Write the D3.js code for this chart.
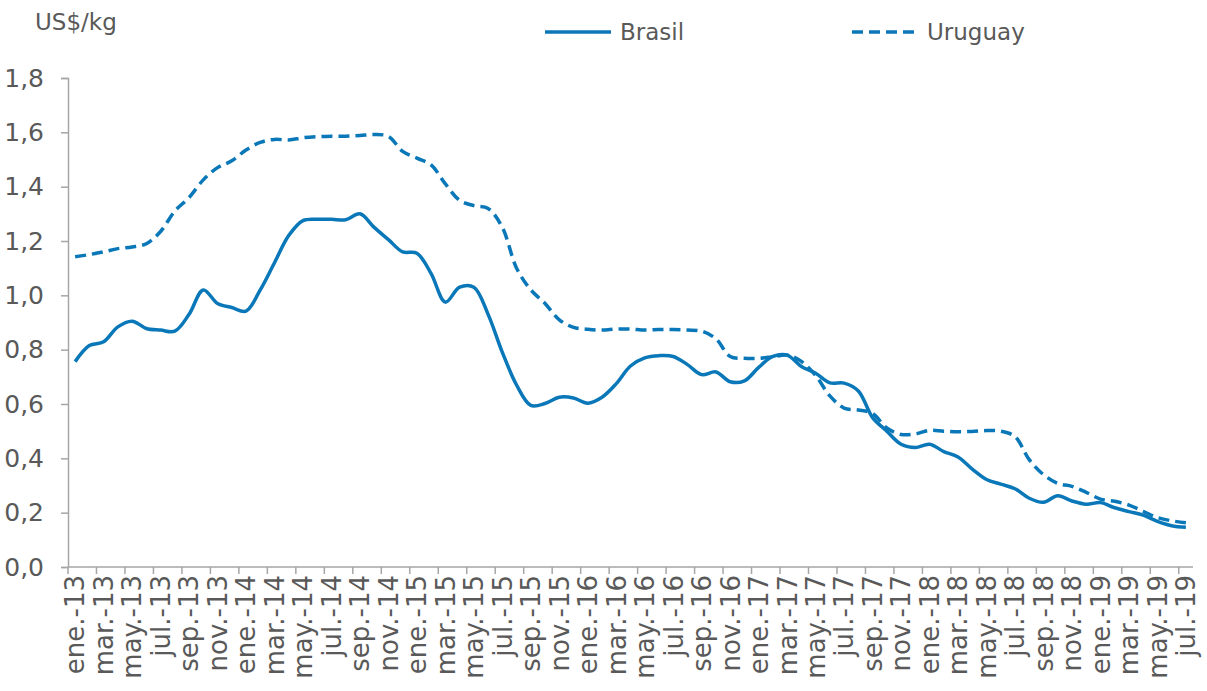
<!DOCTYPE html>
<html>
<head>
<meta charset="utf-8">
<script src="https://cdn.jsdelivr.net/npm/d3@7"></script>
<style>
  body { margin: 0; background: #fff; }
  text { font-family: "DejaVu Sans", sans-serif; fill: #595959; }
</style>
</head>
<body>
<svg id="chart" width="1207" height="691"></svg>
<script>
// Month names used on the axis
const monthNames = ["ene", "feb", "mar", "abr", "may", "jun", "jul", "ago", "sep", "oct", "nov", "dic"];

// Categories: ene.-13 ... jul.-19 (79 months)
const months = [];
for (let y = 13; y <= 19; y++) {
    for (let m = 0; m < 12; m++) {
        if (y === 19 && m > 6) break;
        months.push(`${monthNames[m]}.-${y}`);
    }
}

const brasil = [
    0.756, 0.815, 0.829, 0.884, 0.905, 0.878, 0.872, 0.868, 0.930, 1.020,
    0.970, 0.955, 0.942, 1.020, 1.120, 1.220, 1.275, 1.280, 1.280, 1.278,
    1.300, 1.250, 1.205, 1.160, 1.155, 1.080, 0.975, 1.030, 1.030, 0.930,
    0.790, 0.670, 0.595, 0.602, 0.625, 0.622, 0.603, 0.625, 0.675, 0.740,
    0.770, 0.778, 0.775, 0.745, 0.708, 0.718, 0.682, 0.685, 0.735, 0.775,
    0.780, 0.738, 0.713, 0.678, 0.677, 0.648, 0.550, 0.500, 0.452, 0.440,
    0.452, 0.425, 0.405, 0.360, 0.322, 0.305, 0.288, 0.253, 0.238, 0.262,
    0.243, 0.231, 0.237, 0.218, 0.204, 0.191, 0.168, 0.152, 0.146
];

const uruguay = [
    1.142, 1.150, 1.160, 1.172, 1.178, 1.190, 1.235, 1.310, 1.360, 1.425,
    1.470, 1.495, 1.535, 1.563, 1.574, 1.572, 1.580, 1.584, 1.586, 1.586,
    1.588, 1.592, 1.585, 1.530, 1.505, 1.480, 1.410, 1.350, 1.330, 1.320,
    1.250, 1.100, 1.020, 0.970, 0.910, 0.882, 0.875, 0.872, 0.876, 0.876,
    0.872, 0.874, 0.874, 0.872, 0.868, 0.840, 0.775, 0.768, 0.768, 0.774,
    0.780, 0.757, 0.705, 0.630, 0.585, 0.578, 0.565, 0.512, 0.488, 0.490,
    0.503, 0.500, 0.498, 0.499, 0.502, 0.500, 0.480, 0.395, 0.340, 0.308,
    0.297, 0.275, 0.250, 0.242, 0.228, 0.205, 0.182, 0.170, 0.163
];

const yTicks = [0, 0.2, 0.4, 0.6, 0.8, 1.0, 1.2, 1.4, 1.6, 1.8];

const series = [
    { name: "Brasil", values: brasil, dash: null },
    { name: "Uruguay", values: uruguay, dash: "11,6" }
];

const lineColor = "#0a78b8";
const axisColor = "#a6a6a6";

const svg = d3.select("#chart");
const margin = { left: 68, right: 14, top: 78, bottom: 124 };
const width = 1207, height = 691;

const x = d3.scaleBand()
    .domain(months)
    .range([margin.left, width - margin.right])
    .padding(0);

const y = d3.scaleLinear()
    .domain([0, 1.8])
    .range([height - margin.bottom, margin.top]);

const locale = d3.formatLocale({ decimal: ",", thousands: ".", grouping: [3], currency: ["", "$"] });
const fmt = locale.format(".1f");

// Y axis
const yAxis = svg.append("g")
    .attr("transform", `translate(${margin.left},0)`)
    .call(d3.axisLeft(y).tickValues(yTicks).tickFormat(fmt).tickSize(7).tickPadding(17));
yAxis.select(".domain").attr("stroke", axisColor).attr("stroke-width", 1.5);
yAxis.selectAll(".tick line").attr("stroke", axisColor).attr("stroke-width", 1.5);
yAxis.selectAll(".tick text")
    .style("font-size", "25px")
    .attr("fill", "#595959");

// X axis baseline
const x0 = y(0);
svg.append("line")
    .attr("x1", margin.left).attr("x2", width - margin.right)
    .attr("y1", x0).attr("y2", x0)
    .attr("stroke", axisColor).attr("stroke-width", 1.5);

// Tick marks every two months, at category boundaries
const tickCats = months.filter((d, i) => i % 2 === 0);
svg.append("g").selectAll("line")
    .data(tickCats)
    .join("line")
    .attr("x1", d => x(d)).attr("x2", d => x(d))
    .attr("y1", x0).attr("y2", x0 + 7)
    .attr("stroke", axisColor).attr("stroke-width", 1.5);

// Rotated month labels
svg.append("g").selectAll("text")
    .data(tickCats)
    .join("text")
    .attr("transform", d => `translate(${x(d) + x.bandwidth() / 2},${x0 + 8}) rotate(-90)`)
    .attr("text-anchor", "end")
    .attr("dy", "0.36em")
    .style("font-size", "26px")
    .text(d => d);

// Lines
const line = d3.line()
    .x((d, i) => x(months[i]) + x.bandwidth() / 2)
    .y(d => y(d))
    .curve(d3.curveCatmullRom.alpha(0.5));

series.forEach(s => {
    svg.append("path")
        .datum(s.values)
        .attr("fill", "none")
        .attr("stroke", lineColor)
        .attr("stroke-width", 3.5)
        .attr("stroke-dasharray", s.dash)
        .attr("d", line);
});

// Unit label
svg.append("text")
    .attr("x", 35).attr("y", 30)
    .style("font-size", "23px")
    .text("US$/kg");

// Legend
const legendPos = [{ x: 545, tx: 620 }, { x: 852, tx: 927 }];
series.forEach((s, i) => {
    const g = svg.append("g");
    g.append("line")
        .attr("x1", legendPos[i].x).attr("x2", legendPos[i].x + 66)
        .attr("y1", 32).attr("y2", 32)
        .attr("stroke", lineColor)
        .attr("stroke-width", 3.5)
        .attr("stroke-dasharray", s.dash);
    g.append("text")
        .attr("x", legendPos[i].tx).attr("y", 40)
        .style("font-size", "23px")
        .text(s.name);
});
</script>
</body>
</html>
